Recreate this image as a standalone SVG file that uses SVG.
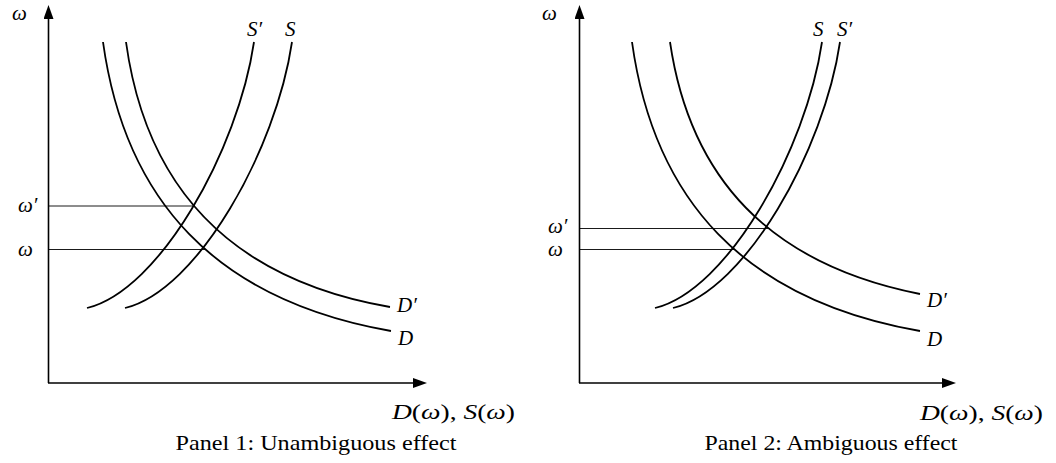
<svg xmlns="http://www.w3.org/2000/svg" width="1056" height="463" viewBox="0 0 1056 463">
<style>
.ax{stroke:#000;stroke-width:1.6;fill:none}
.cv{stroke:#000;stroke-width:1.8;fill:none}
.gd{stroke:#000;stroke-width:0.9;fill:none}
.m{font-family:"Liberation Serif",serif;font-style:italic;font-size:21px;fill:#000}
.xl{font-size:22px}
.up{font-style:normal}
.cap{font-family:"Liberation Serif",serif;font-size:22px;fill:#000;text-anchor:middle}
</style>
<defs>
<marker id="arr" markerUnits="userSpaceOnUse" viewBox="0 0 14 10" refX="6" refY="5" markerWidth="14" markerHeight="10" orient="auto">
<path d="M0,0 L14,5 L0,10 Z" fill="#000"/>
</marker>
</defs>
<g id="panel1">
<g id="p1-axes">
<line class="ax" x1="48.5" y1="383" x2="48.5" y2="13" marker-end="url(#arr)"/>
<line class="ax" x1="48" y1="383" x2="419" y2="383" marker-end="url(#arr)"/>
</g>
<g id="p1-guides">
<line class="gd" x1="48" y1="206" x2="195" y2="206"/>
<line class="gd" x1="48" y1="249.5" x2="205" y2="249.5"/>
</g>
<g id="p1-curves">
<path id="p1-D" class="cv" d="M103,42 C125,200 215,300 391,331"/>
<path id="p1-Dp" class="cv" d="M126,42 C146,187 229,279 390,307"/>
<path id="p1-Sp" class="cv" d="M87,308 C160,290 238,150 254,42"/>
<path id="p1-S" class="cv" d="M125,308 C198,290 276,150 292,42"/>
</g>
<g id="p1-labels">
<text class="m" x="12" y="20">ω</text>
<text class="m" x="247" y="36">S′</text>
<text class="m" x="285" y="36">S</text>
<text class="m" x="18" y="212">ω′</text>
<text class="m" x="18" y="256">ω</text>
<text class="m" x="397" y="312">D′</text>
<text class="m" x="398" y="345">D</text>
<text class="m xl" x="392" y="419" textLength="123" lengthAdjust="spacingAndGlyphs">D<tspan class="up">(</tspan>ω<tspan class="up">), </tspan>S<tspan class="up">(</tspan>ω<tspan class="up">)</tspan></text>
<text class="cap" x="316" y="450" textLength="281" lengthAdjust="spacingAndGlyphs">Panel 1: Unambiguous effect</text>
</g>
</g>
<g id="panel2">
<g id="p2-axes">
<line class="ax" x1="579.5" y1="383" x2="579.5" y2="13" marker-end="url(#arr)"/>
<line class="ax" x1="579" y1="383" x2="948" y2="383" marker-end="url(#arr)"/>
</g>
<g id="p2-guides">
<line class="gd" x1="579" y1="228.5" x2="770" y2="228.5"/>
<line class="gd" x1="579" y1="249.5" x2="734" y2="249.5"/>
</g>
<g id="p2-curves">
<path id="p2-D" class="cv" d="M632,42 C654,200 744,300 920,331"/>
<path id="p2-Dp" class="cv" d="M670,42 C690,178 769,264 920,294"/>
<path id="p2-S" class="cv" d="M655,308 C728,290 806,150 822,42"/>
<path id="p2-Sp" class="cv" d="M673,308 C746,290 824,150 840,42"/>
</g>
<g id="p2-labels">
<text class="m" x="542" y="20">ω</text>
<text class="m" x="813" y="36">S</text>
<text class="m" x="837" y="36">S′</text>
<text class="m" x="548" y="233">ω′</text>
<text class="m" x="548" y="256">ω</text>
<text class="m" x="927" y="307">D′</text>
<text class="m" x="927" y="346">D</text>
<text class="m xl" x="920" y="420" textLength="123" lengthAdjust="spacingAndGlyphs">D<tspan class="up">(</tspan>ω<tspan class="up">), </tspan>S<tspan class="up">(</tspan>ω<tspan class="up">)</tspan></text>
<text class="cap" x="831" y="450" textLength="253" lengthAdjust="spacingAndGlyphs">Panel 2: Ambiguous effect</text>
</g>
</g>
</svg>
